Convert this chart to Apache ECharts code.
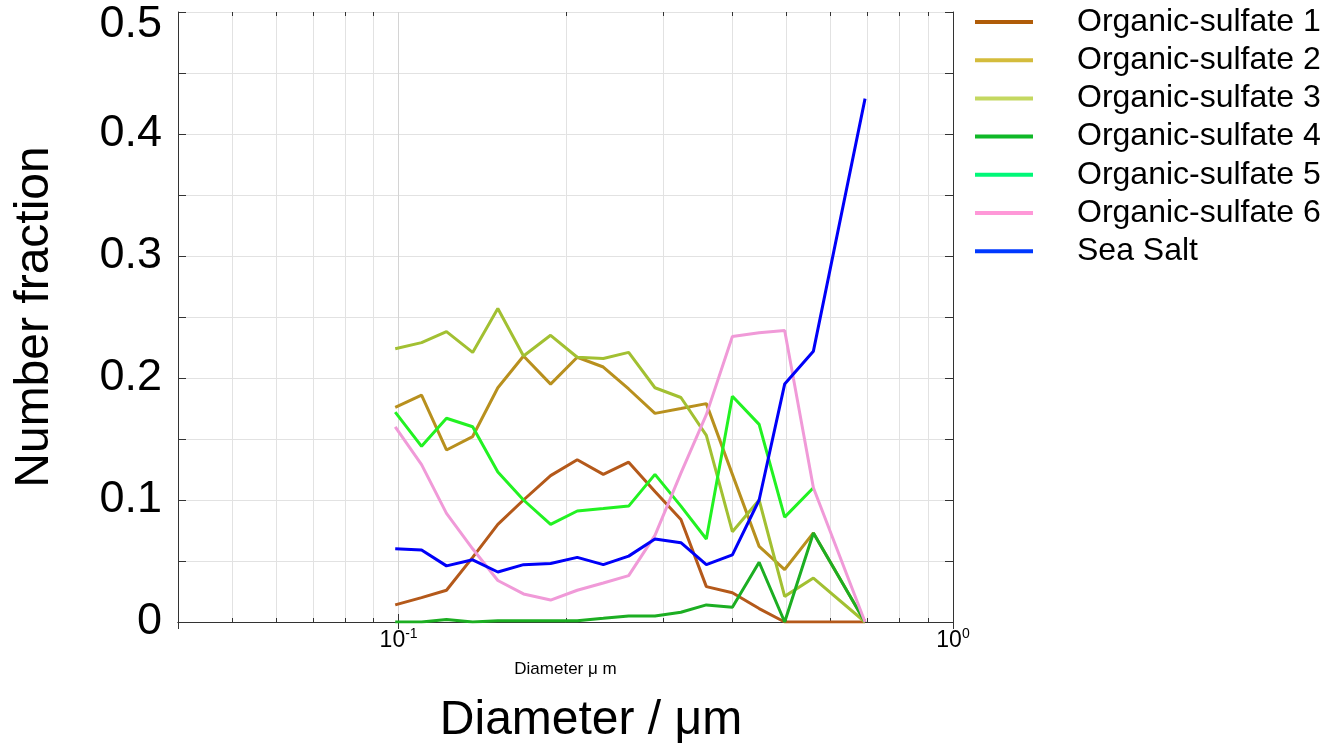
<!DOCTYPE html>
<html>
<head>
<meta charset="utf-8">
<title>Number fraction vs diameter</title>
<script src="https://cdn.jsdelivr.net/npm/echarts@6/dist/echarts.min.js"></script>
<style>
  html, body { margin: 0; padding: 0; background: #fff; }
  #chart { width: 1334px; height: 745px; }
</style>
</head>
<body>
<div id="chart"></div>
<script>
// particle diameter (um), one entry per size bin; the bin near 0.62 um is empty
var diameters = [0.0986, 0.110, 0.122, 0.136, 0.151, 0.168, 0.188, 0.210, 0.234,
  0.260, 0.290, 0.323, 0.359, 0.400, 0.447, 0.497, 0.560, 0.694];

var seriesNames = ["Organic-sulfate 1", "Organic-sulfate 2", "Organic-sulfate 3",
  "Organic-sulfate 4", "Organic-sulfate 5", "Organic-sulfate 6", "Sea Salt"];

var os1 = [0.014, 0.020, 0.026, 0.053, 0.080, 0.100, 0.120, 0.133, 0.121, 0.131,
  0.107, 0.084, 0.029, 0.024, 0.011, 0, 0, 0];
var os2 = [0.176, 0.186, 0.141, 0.152, 0.192, 0.218, 0.195, 0.217, 0.209, 0.191,
  0.171, 0.175, 0.179, 0.121, 0.062, 0.043, 0.073, 0];
var os3 = [0.224, 0.229, 0.238, 0.221, 0.257, 0.218, 0.235, 0.217, 0.216, 0.221,
  0.192, 0.184, 0.153, 0.074, 0.100, 0.021, 0.036, 0];
var os4 = [0, 0, 0.002, 0, 0.001, 0.001, 0.001, 0.001, 0.003, 0.005,
  0.005, 0.008, 0.014, 0.012, 0.049, 0, 0.073, 0];
var os5 = [0.172, 0.144, 0.167, 0.160, 0.123, 0.100, 0.080, 0.091, 0.093, 0.095,
  0.121, 0.095, 0.068, 0.185, 0.162, 0.086, 0.110];
var os6 = [0.160, 0.129, 0.089, 0.060, 0.034, 0.023, 0.018, 0.026, 0.032, 0.038,
  0.071, 0.122, 0.170, 0.234, 0.237, 0.239, 0.110, 0];
var seaSalt = [0.060, 0.059, 0.046, 0.051, 0.041, 0.047, 0.048, 0.053, 0.047, 0.054,
  0.068, 0.065, 0.047, 0.055, 0.100, 0.195, 0.222, 0.429];

var seriesValues = [os1, os2, os3, os4, os5, os6, seaSalt];

// minor log grid positions on the x axis
var xMinor = [0.05, 0.06, 0.07, 0.08, 0.09, 0.2, 0.3, 0.4, 0.5, 0.6, 0.7, 0.8, 0.9];
var yTickLabels = ["0", "0.1", "0.2", "0.3", "0.4", "0.5"];

var lineColors = ["#b4591a", "#b8901e", "#a2c032", "#1cae22", "#22f222", "#f09ad8", "#0000f8"];
var legendColors = ["#b05c08", "#d4bc3c", "#c4d860", "#10b828", "#00f878", "#ff98d8", "#0038ff"];

var X_MIN = 0.04, X_MAX = 1, Y_MIN = 0, Y_MAX = 0.5;
var FONT = "'Liberation Sans', Arial, Helvetica, sans-serif";
var AXIS_COLOR = "#333";
var GRID_COLOR = "#e2e2e2";

var chart = echarts.init(document.getElementById("chart"));

function pairs(values) {
  return values.map(function (v, i) {
    return [diameters[i], v];
  });
}

var lineSeries = seriesNames.map(function (name, k) {
  return {
    name: name,
    type: "line",
    data: pairs(seriesValues[k]),
    symbol: "none",
    z: 3,
    lineStyle: { color: lineColors[k], width: 3 },
    itemStyle: { color: lineColors[k] },
  };
});

// minor vertical grid lines plus short ticks at top and bottom
var minorGrid = {
  type: "custom",
  name: "minor",
  z: 1,
  silent: true,
  data: xMinor.map(function (v) { return [v, 0]; }),
  encode: { x: 0, y: 1 },
  renderItem: function (params, api) {
    var v = api.value(0);
    var lo = api.coord([v, Y_MIN]);
    var hi = api.coord([v, Y_MAX]);
    var x = Math.round(lo[0]) + 0.5;
    return {
      type: "group",
      children: [
        { type: "line", shape: { x1: x, y1: hi[1], x2: x, y2: lo[1] },
          style: { stroke: GRID_COLOR, lineWidth: 1 } },
        { type: "line", shape: { x1: x, y1: lo[1], x2: x, y2: lo[1] - 4 },
          style: { stroke: AXIS_COLOR, lineWidth: 1 } },
        { type: "line", shape: { x1: x, y1: hi[1], x2: x, y2: hi[1] + 4 },
          style: { stroke: AXIS_COLOR, lineWidth: 1 } },
      ],
    };
  },
};

function isPow(v, p) {
  return Math.abs(v - p) < p * 1e-6;
}

chart.setOption({
  animation: false,
  textStyle: { fontFamily: FONT },
  grid: { left: 178, top: 12, width: 775, height: 610 },
  legend: {
    orient: "vertical",
    left: 975,
    top: 6,
    padding: 0,
    icon: "rect",
    itemWidth: 58,
    itemHeight: 4,
    itemGap: 6.2,
    selectedMode: false,
    textStyle: { fontSize: 32, color: "#000", padding: [0, 0, 0, 39], lineHeight: 32, fontFamily: FONT },
    data: seriesNames.map(function (name, k) {
      return { name: name, itemStyle: { color: legendColors[k] } };
    }),
  },
  xAxis: [
    {
      type: "log",
      logBase: 10,
      min: X_MIN,
      max: X_MAX,
      name: "Diameter \u03bc m",
      nameLocation: "middle",
      nameGap: 39,
      nameTextStyle: { fontSize: 17, color: "#000", fontFamily: FONT },
      axisLine: { lineStyle: { color: AXIS_COLOR, width: 1 } },
      axisTick: { inside: true, length: 8, lineStyle: { color: AXIS_COLOR } },
      splitLine: { show: true, lineStyle: { color: "#d4d4d4", width: 1 } },
      minorTick: { show: false },
      axisLabel: {
        margin: 5,
        color: "#000",
        formatter: function (v) {
          if (isPow(v, 0.1)) return "{b|10}{s|-1}";
          if (isPow(v, 1)) return "{b|10}{s|0}";
          return "";
        },
        rich: {
          b: { fontSize: 23, color: "#000", fontFamily: FONT },
          s: { fontSize: 14, color: "#000", fontFamily: FONT, padding: [0, 0, 13, 0] },
        },
      },
    },
    {
      type: "log",
      logBase: 10,
      min: X_MIN,
      max: X_MAX,
      position: "top",
      axisLine: { lineStyle: { color: AXIS_COLOR, width: 1 } },
      axisTick: { inside: true, length: 7, lineStyle: { color: AXIS_COLOR } },
      axisLabel: { show: false },
      splitLine: { show: false },
    },
  ],
  yAxis: [
    {
      type: "value",
      min: Y_MIN,
      max: Y_MAX,
      interval: 0.05,
      name: "Number fraction",
      nameLocation: "middle",
      nameGap: 119,
      nameTextStyle: { fontSize: 48, color: "#000", fontFamily: FONT },
      axisLine: { show: true, lineStyle: { color: AXIS_COLOR, width: 1 } },
      axisTick: { show: true, inside: true, length: 8, lineStyle: { color: AXIS_COLOR } },
      splitLine: { show: true, lineStyle: { color: GRID_COLOR, width: 1 } },
      axisLabel: {
        margin: 16,
        fontSize: 45,
        color: "#000",
        formatter: function (v, idx) {
          if (idx % 2 !== 0) return "";
          var label = yTickLabels[idx / 2];
          return idx / 2 === yTickLabels.length - 1 ? "{t|" + label + "}" : label;
        },
        rich: {
          t: { fontSize: 45, color: "#000", fontFamily: FONT, padding: [26, 0, 0, 0] },
        },
      },
    },
    {
      type: "value",
      min: Y_MIN,
      max: Y_MAX,
      interval: 0.05,
      position: "right",
      axisLine: { show: true, lineStyle: { color: AXIS_COLOR, width: 1 } },
      axisTick: { show: true, inside: true, length: 8, lineStyle: { color: AXIS_COLOR } },
      axisLabel: { show: false },
      splitLine: { show: false },
    },
  ],
  graphic: [
    {
      type: "text",
      x: 591,
      y: 721,
      style: {
        text: "Diameter / \u03bcm",
        fontSize: 48,
        fontFamily: FONT,
        fill: "#000",
        textAlign: "center",
        textVerticalAlign: "middle",
      },
    },
  ],
  series: [minorGrid].concat(lineSeries),
});
</script>
</body>
</html>
